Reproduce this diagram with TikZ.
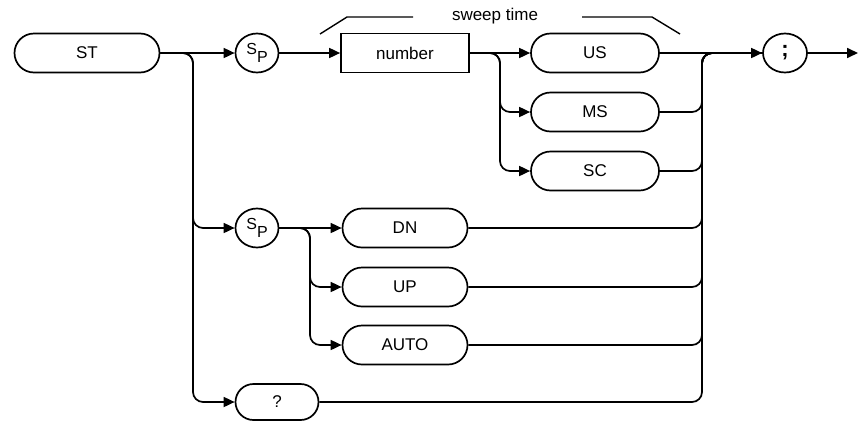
\documentclass[tikz,border=0pt]{standalone}
\usepackage{fontspec}
\setmainfont{Liberation Sans}
\usepackage{tikz}
\usetikzlibrary{arrows.meta, shapes.misc, shapes.geometric}
\tikzset{
  keyword/.style={draw, rounded rectangle, line width=1.7pt, minimum height=39pt,
    inner sep=1pt, font=\fontsize{17}{20}\selectfont},
  param/.style={draw, rectangle, line width=1.7pt, minimum height=39pt,
    inner sep=1pt, font=\fontsize{17}{20}\selectfont},
  spc/.style={draw, ellipse, line width=1.7pt, minimum width=43pt, minimum height=39pt,
    inner sep=0pt, font=\fontsize{16}{16}\selectfont},
  flow/.style={line width=1.7pt, rounded corners=10pt},
}
\newcommand{\spsym}{\raisebox{4pt}{S}\raisebox{-4pt}{P}}

\begin{document}
\begin{tikzpicture}[x=1pt, y=-1pt, >={Triangle[length=11pt, width=10pt]}]
  \useasboundingbox (0,0) rectangle (859,421);
  % branch and merge columns
  \coordinate (b1) at (193,0);
  \coordinate (b2) at (500,0);
  \coordinate (b3) at (310,0);
  \coordinate (mg) at (702,0);
  % nodes
  \node[keyword, minimum width=147pt] (st) at (87,53) {ST};
  \node[spc] (sp1) at (257,53) {\spsym};
  \node[param, minimum width=128pt] (num) at (405,53) {number};
  \node[keyword, minimum width=130pt] (us) at (595,53) {US};
  \node[keyword, minimum width=130pt] (ms) at (595,112) {MS};
  \node[keyword, minimum width=130pt] (sc) at (595,171) {SC};
  \node[spc, minimum width=44pt] (semi) at (785,53) {\fontsize{22}{22}\selectfont\textbf{;}};
  \coordinate (out) at (858,53);
  \node[spc] (sp2) at (257,228) {\spsym};
  \node[keyword, minimum width=127pt] (dn) at (405,228) {DN};
  \node[keyword, minimum width=127pt] (up) at (405,287) {UP};
  \node[keyword, minimum width=127pt] (auto) at (405,345) {AUTO};
  \node[keyword, minimum width=85pt, minimum height=36pt] (qry) at (277,402) {?};
  % sweep time bracket
  \node[font=\fontsize{17}{20}\selectfont] (swt) at (495,16) {sweep time};
  \draw[line width=1.4pt] (320,34) -- (347,17) -- (413,17);
  \draw[line width=1.4pt] (582,17) -- (652,17) -- (680,34);
  % top row
  \draw[flow, ->] (st) -- (sp1);
  \draw[flow, ->] (sp1) -- (num);
  \draw[flow, ->] (num) -- (us);
  \draw[flow, ->] (us) -- (semi);
  \draw[flow, ->] (semi) -- (out);
  \draw[flow, ->] (num.east) -| (b2 |- ms) -- (ms.west);
  \draw[flow, ->] (num.east) -| (b2 |- sc) -- (sc.west);
  \draw[flow] (ms.east) -| (mg |- semi) -- (semi.west);
  \draw[flow] (sc.east) -| (mg |- semi) -- (semi.west);
  % second and third paths
  \draw[flow, ->] (st.east) -| (b1 |- sp2) -- (sp2.west);
  \draw[flow, ->] (st.east) -| (b1 |- qry) -- (qry.west);
  \draw[flow, ->] (sp2) -- (dn);
  \draw[flow, ->] (sp2.east) -| (b3 |- up) -- (up.west);
  \draw[flow, ->] (sp2.east) -| (b3 |- auto) -- (auto.west);
  \draw[flow] (dn.east) -| (mg |- semi) -- (semi.west);
  \draw[flow] (up.east) -| (mg |- semi) -- (semi.west);
  \draw[flow] (auto.east) -| (mg |- semi) -- (semi.west);
  \draw[flow] (qry.east) -| (mg |- semi) -- (semi.west);
\end{tikzpicture}
\end{document}
